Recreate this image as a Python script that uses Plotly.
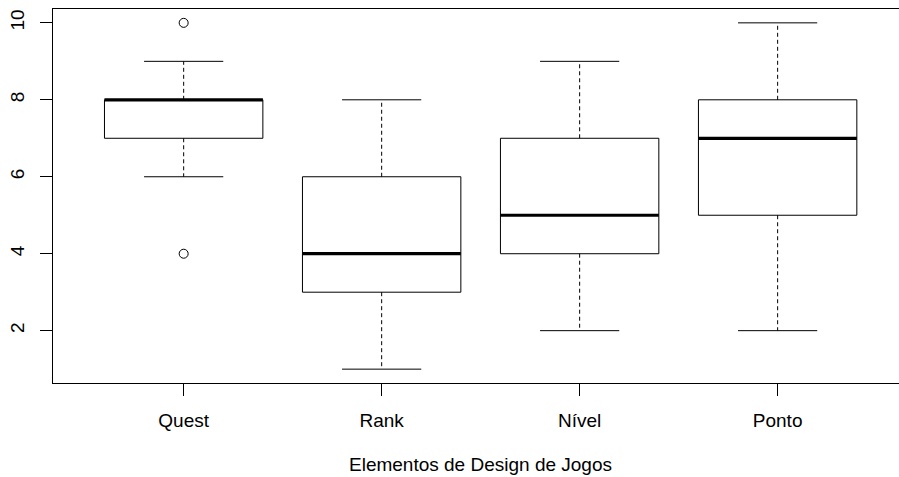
import plotly.graph_objects as go

# Summary statistics per game-design element (score scale 1-10)
categories = ["Quest", "Rank", "Nível", "Ponto"]
lower_whisker = [6, 1, 2, 2]
q1 = [7, 3, 4, 5]
median = [8, 4, 5, 7]
q3 = [8, 6, 7, 8]
upper_whisker = [9, 8, 9, 10]
outliers = [[4, 10], [], [], []]

y_ticks = [2, 4, 6, 8, 10]
x_title = "Elementos de Design de Jogos"

BOX_HALF = 0.4      # half of the box width (boxwex 0.8)
STAPLE_HALF = 0.2   # half of the whisker cap width
FONT = "Liberation Sans, Arial, Helvetica, sans-serif"

positions = list(range(1, len(categories) + 1))

box_x, box_y = [], []
med_x, med_y = [], []
wh_x, wh_y = [], []
st_x, st_y = [], []
out_x, out_y = [], []
for p, lo, a, m, b, hi, outs in zip(positions, lower_whisker, q1, median, q3,
                                     upper_whisker, outliers):
    box_x += [p - BOX_HALF, p + BOX_HALF, p + BOX_HALF, p - BOX_HALF, p - BOX_HALF, None]
    box_y += [a, a, b, b, a, None]
    med_x += [p - BOX_HALF, p + BOX_HALF, None]
    med_y += [m, m, None]
    wh_x += [p, p, None, p, p, None]
    wh_y += [b, hi, None, a, lo, None]
    st_x += [p - STAPLE_HALF, p + STAPLE_HALF, None, p - STAPLE_HALF, p + STAPLE_HALF, None]
    st_y += [hi, hi, None, lo, lo, None]
    for o in outs:
        out_x.append(p)
        out_y.append(o)

fig = go.Figure()
fig.add_trace(go.Scatter(x=wh_x, y=wh_y, mode="lines",
                         line=dict(color="black", width=1, dash="4px,3px"),
                         hoverinfo="skip", showlegend=False))
fig.add_trace(go.Scatter(x=st_x, y=st_y, mode="lines",
                         line=dict(color="black", width=1),
                         hoverinfo="skip", showlegend=False))
fig.add_trace(go.Scatter(x=box_x, y=box_y, mode="lines",
                         line=dict(color="black", width=1),
                         hoverinfo="skip", showlegend=False))
fig.add_trace(go.Scatter(x=med_x, y=med_y, mode="lines",
                         line=dict(color="black", width=3.2),
                         hoverinfo="skip", showlegend=False))
fig.add_trace(go.Scatter(x=out_x, y=out_y, mode="markers",
                         marker=dict(symbol="circle-open", size=9, color="black",
                                     line=dict(width=1)),
                         hoverinfo="skip", showlegend=False))

fig.add_annotation(text=x_title, xref="x", yref="paper", x=2.5, y=0,
                   yanchor="middle", yshift=-81, showarrow=False,
                   font=dict(family=FONT, size=19, color="black"))

fig.update_layout(
    width=899, height=477,
    margin=dict(l=53, r=0, t=9, b=94),
    paper_bgcolor="white", plot_bgcolor="white",
    font=dict(family=FONT, size=19, color="black"),
    xaxis=dict(range=[0.34, 4.613], tickvals=positions, ticktext=categories,
               showline=True, mirror=True, linecolor="black", linewidth=1,
               ticks="outside", ticklen=12, tickcolor="black", tickwidth=1,
               showgrid=False, zeroline=False, ticklabelstandoff=8),
    yaxis=dict(range=[0.64, 10.36], tickvals=y_ticks,
               showline=True, mirror=False, linecolor="black", linewidth=1,
               ticks="outside", ticklen=12, tickcolor="black", tickwidth=1,
               tickangle=-90, showgrid=False, zeroline=False,
               ticklabelstandoff=8),
)

fig.write_html("out.html")
